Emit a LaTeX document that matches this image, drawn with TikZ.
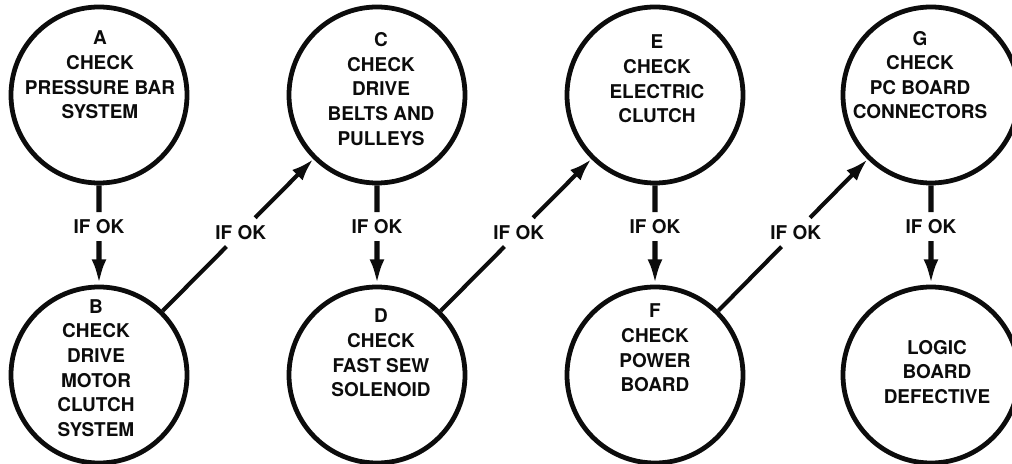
\documentclass[tikz,border=0pt]{standalone}
\usepackage{fontspec}
\setmainfont{TeX Gyre Heros}
\usetikzlibrary{arrows.meta,calc}
\definecolor{TsgInk}{RGB}{12,12,12}
\tikzset{
  tsg/check/.style={
    circle,
    draw=TsgInk,
    line width=3.4pt,
    fill=white,
    minimum size=4.4cm,
    inner sep=0pt
  },
  tsg/caption/.style={
    align=center,
    text=TsgInk,
    font=\fontsize{13.5}{17.5}\selectfont\bfseries
  },
  tsg/ok/.style={
    text=TsgInk,
    inner sep=5pt,
    font=\fontsize{13.5}{15}\selectfont\bfseries
  },
  tsg/stem/.style={line width=3.6pt, draw=TsgInk},
  tsg/stemarrow/.style={tsg/stem, -{Latex[length=18pt,width=10.5pt]}},
  tsg/diag/.style={line width=2.9pt, draw=TsgInk},
  tsg/diagarrow/.style={tsg/diag, -{Latex[length=16pt,width=10.5pt]}}
}

\begin{document}
\begin{tikzpicture}[x=1cm,y=1cm]
  \useasboundingbox (0,0) rectangle (25.3,11.6);

  % check circles
  \node[tsg/check] (a) at (2.475,9.225) {};
  \node[tsg/check] (b) at (2.475,2.225) {};
  \node[tsg/check] (c) at (9.425,9.225) {};
  \node[tsg/check] (d) at (9.425,2.225) {};
  \node[tsg/check] (e) at (16.375,9.225) {};
  \node[tsg/check] (f) at (16.375,2.225) {};
  \node[tsg/check] (g) at (23.275,9.225) {};
  \node[tsg/check] (logic) at (23.275,2.225) {};

  % texts inside the circles
  \node[tsg/caption] (a-txt) at (2.5,9.725) {A\\CHECK\\PRESSURE BAR\\SYSTEM};
  \node[tsg/caption] (b-txt) at (2.4,2.4) {B\\CHECK\\DRIVE\\MOTOR\\CLUTCH\\SYSTEM};
  \node[tsg/caption] (c-txt) at (9.525,9.375) {C\\CHECK\\DRIVE\\BELTS AND\\PULLEYS};
  \node[tsg/caption] (d-txt) at (9.525,2.775) {D\\CHECK\\FAST SEW\\SOLENOID};
  \node[tsg/caption] (e-txt) at (16.425,9.625) {E\\CHECK\\ELECTRIC\\CLUTCH};
  \node[tsg/caption] (f-txt) at (16.375,2.9) {F\\CHECK\\POWER\\BOARD};
  \node[tsg/caption] (g-txt) at (23.0,9.725) {G\\CHECK\\PC BOARD\\CONNECTORS};
  \node[tsg/caption] (logic-txt) at (23.425,2.3) {LOGIC\\BOARD\\DEFECTIVE};

  % if ok labels
  \node[tsg/ok] (ok-ab) at ($(a)!0.47!(b)$) {IF OK};
  \node[tsg/ok] (ok-bc) at ($(b)!0.51!(c)$) {IF OK};
  \node[tsg/ok] (ok-cd) at ($(c)!0.47!(d)$) {IF OK};
  \node[tsg/ok] (ok-de) at ($(d)!0.51!(e)$) {IF OK};
  \node[tsg/ok] (ok-ef) at ($(e)!0.47!(f)$) {IF OK};
  \node[tsg/ok] (ok-fg) at ($(f)!0.51!(g)$) {IF OK};
  \node[tsg/ok] (ok-gl) at ($(g)!0.47!(logic)$) {IF OK};

  % connectors
  \draw[tsg/stem] (a) -- (ok-ab);
  \draw[tsg/stemarrow] (ok-ab) -- (b);
  \draw[tsg/diag] (b) -- (ok-bc);
  \draw[tsg/diagarrow] (ok-bc) -- (c);
  \draw[tsg/stem] (c) -- (ok-cd);
  \draw[tsg/stemarrow] (ok-cd) -- (d);
  \draw[tsg/diag] (d) -- (ok-de);
  \draw[tsg/diagarrow] (ok-de) -- (e);
  \draw[tsg/stem] (e) -- (ok-ef);
  \draw[tsg/stemarrow] (ok-ef) -- (f);
  \draw[tsg/diag] (f) -- (ok-fg);
  \draw[tsg/diagarrow] (ok-fg) -- (g);
  \draw[tsg/stem] (g) -- (ok-gl);
  \draw[tsg/stemarrow] (ok-gl) -- (logic);
\end{tikzpicture}
\end{document}
